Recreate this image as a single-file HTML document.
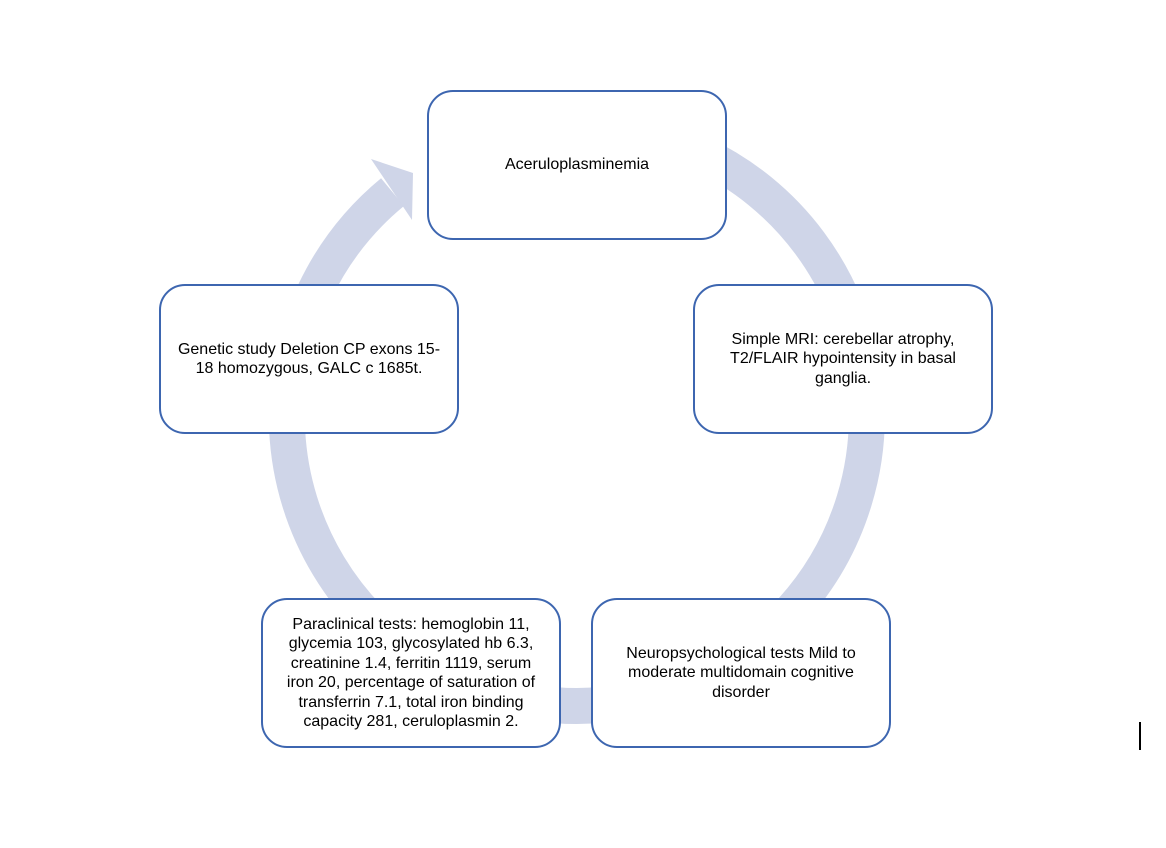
<!DOCTYPE html>
<html><head><style>
body{margin:0;width:1166px;height:848px;background:#fff;position:relative;overflow:hidden;font-family:"Liberation Sans",sans-serif;}
.b{position:absolute;width:296px;height:146px;border:2.5px solid #3d66b0;border-radius:26px;background:#fff;display:flex;align-items:center;justify-content:center;text-align:center;font-size:16px;line-height:19.5px;color:#000;white-space:nowrap;box-sizing:content-box;}
</style></head><body>
<svg width="1166" height="848" style="position:absolute;left:0;top:0">
<path d="M392.5 192.1 A290 290 0 1 0 577 126" fill="none" stroke="#cfd5e8" stroke-width="36"/>
<polygon points="371,159 413,173 412,220" fill="#cfd5e8"/>
<rect x="1139" y="722" width="2" height="28" fill="#000"/>
</svg>
<div class="b" style="left:427px;top:90px">Aceruloplasminemia</div>
<div class="b" style="left:693px;top:284px">Simple MRI: cerebellar atrophy,<br>T2/FLAIR hypointensity in basal<br>ganglia.</div>
<div class="b" style="left:591px;top:598px">Neuropsychological tests Mild to<br>moderate multidomain cognitive<br>disorder</div>
<div class="b" style="left:261px;top:598px">Paraclinical tests: hemoglobin 11,<br>glycemia 103, glycosylated hb 6.3,<br>creatinine 1.4, ferritin 1119, serum<br>iron 20, percentage of saturation of<br>transferrin 7.1, total iron binding<br>capacity 281, ceruloplasmin 2.</div>
<div class="b" style="left:159px;top:284px">Genetic study Deletion CP exons 15-<br>18 homozygous, GALC c 1685t.</div>
</body></html>
